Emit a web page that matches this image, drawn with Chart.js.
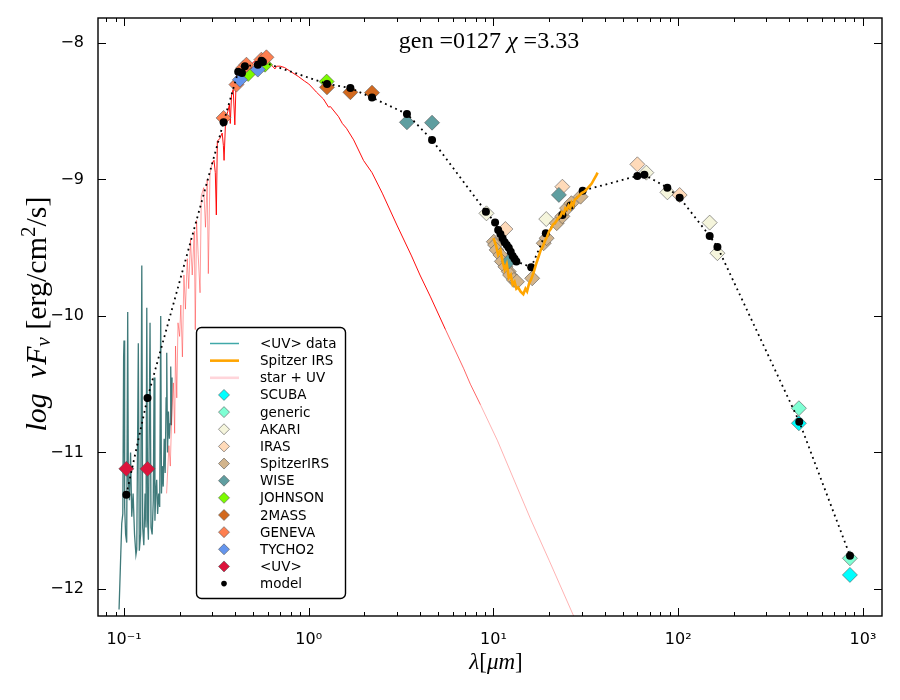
<!DOCTYPE html>
<html>
<head>
<meta charset="utf-8">
<script src="https://cdn.jsdelivr.net/npm/chart.js@4.4.1/dist/chart.umd.min.js"></script>
<style>body{margin:0;background:#fff}</style>
</head>
<body>
<canvas id="sed" width="900" height="700"></canvas>
<script>
// ---- data (wavelength in micron, log nuFnu) ----
const uvLam = [0.0940,0.0955,0.0972,0.0985,0.0995,0.1000,0.1008,0.1020,0.1034,0.1047,0.1055,0.1070,0.1085,0.1101,0.1120,0.1140,0.1160,0.1172,0.1195,0.1210,0.1230,0.1248,0.1262,0.1280,0.1300,0.1315,0.1328,0.1342,0.1355,0.1383,0.1400,0.1420,0.1440,0.1455,0.1470,0.1485,0.1503,0.1520,0.1540,0.1560,0.1580,0.1595,0.1610,0.1630,0.1650,0.1670,0.1690,0.1703,0.1720,0.1740,0.1760,0.1774,0.1790,0.1805,0.1820];
const uvFlux = [-12.15,-11.85,-11.52,-11.45,-10.30,-10.18,-11.40,-11.60,-11.66,-9.97,-11.20,-11.35,-11.00,-11.47,-11.30,-11.60,-11.75,-11.71,-10.20,-11.72,-11.60,-9.63,-11.55,-11.68,-11.30,-11.55,-9.94,-11.50,-11.64,-10.05,-11.55,-11.60,-11.35,-10.45,-11.50,-11.30,-11.20,-11.45,-11.30,-11.40,-10.00,-11.30,-11.10,-11.25,-10.90,-11.15,-10.60,-10.27,-11.00,-10.70,-10.90,-10.79,-10.37,-10.80,-10.45];

const starLam = [0.170,0.175,0.178,0.181,0.185,0.188,0.190,0.193,0.196,0.200,0.203,0.207,0.211,0.215,0.220,0.224,0.229,0.234,0.240,0.243,0.247,0.252,0.258,0.262,0.270,0.276,0.282,0.286,0.292,0.300,0.307,0.312,0.316,0.320,0.330,0.340,0.345,0.348,0.355,0.365,0.372,0.376,0.382,0.390,0.398,0.405,0.412,0.420,0.430,0.440,0.450,0.470,0.486,0.500,0.530,0.560,0.590,0.617,0.656,0.670,0.700,0.740,0.800,0.877,0.950,1.00,1.05,1.10,1.20,1.28,1.31,1.45,1.52,1.60,1.75,1.98,2.20,2.50,3.00,3.60,4.00,4.56,5.50,6.90,7.50,8.50,10.5,13.0,15.9,20.0,27.2,32.0];
const starFlux = [-11.30,-10.95,-11.10,-10.75,-10.49,-10.86,-10.22,-10.60,-10.05,-10.15,-9.92,-10.30,-9.70,-9.95,-9.58,-9.80,-9.44,-9.70,-9.38,-10.10,-9.30,-9.55,-9.83,-9.12,-9.06,-9.35,-9.00,-9.69,-8.96,-8.88,-8.86,-8.95,-9.26,-8.72,-8.70,-8.66,-8.75,-8.86,-8.55,-8.50,-8.45,-8.59,-8.38,-8.34,-8.60,-8.25,-8.20,-8.30,-8.18,-8.16,-8.16,-8.15,-8.20,-8.14,-8.13,-8.13,-8.14,-8.15,-8.19,-8.17,-8.17,-8.18,-8.21,-8.245,-8.28,-8.30,-8.33,-8.36,-8.41,-8.47,-8.466,-8.54,-8.59,-8.625,-8.71,-8.861,-8.95,-9.10,-9.334,-9.56,-9.70,-9.86,-10.10,-10.386,-10.50,-10.65,-10.912,-11.21,-11.49,-11.79,-12.20,-12.41];

const irsLam = [10.0,10.3,10.6,10.9,11.2,11.5,11.8,12.1,12.4,12.7,13.0,13.3,13.6,14.0,14.5,14.9,15.2,15.6,16.0,16.5,17.0,17.5,18.0,18.5,19.0,19.5,20.0,20.5,21.0,21.5,22.0,22.5,23.0,23.5,24.0,24.5,25.0,25.5,26.0,26.5,27.0,27.5,28.0,29.0,30.0,31.0,32.0,33.0,34.0,35.0,36.0,36.6];
const irsFlux = [-9.43,-9.48,-9.55,-9.52,-9.60,-9.66,-9.62,-9.72,-9.70,-9.77,-9.75,-9.80,-9.79,-9.82,-9.84,-9.80,-9.82,-9.76,-9.73,-9.68,-9.62,-9.57,-9.52,-9.49,-9.45,-9.42,-9.38,-9.36,-9.33,-9.32,-9.30,-9.28,-9.27,-9.24,-9.25,-9.21,-9.22,-9.19,-9.21,-9.17,-9.19,-9.15,-9.14,-9.12,-9.10,-9.09,-9.07,-9.05,-9.03,-9.00,-8.97,-8.95];

const modelLam = [0.1029,0.134,0.346,0.415,0.435,0.451,0.530,0.555,0.565,1.255,1.68,2.20,3.40,4.65,9.1,10.2,10.6,10.9,11.2,11.5,11.8,12.1,12.4,12.7,13.0,13.3,16.0,19.2,23.6,26.1,30.4,60.1,65.6,87.3,101.8,148,163,452,851];
const modelFlux = [-11.31,-10.60,-8.58,-8.21,-8.22,-8.17,-8.16,-8.13,-8.14,-8.30,-8.33,-8.40,-8.52,-8.71,-9.236,-9.316,-9.37,-9.40,-9.43,-9.46,-9.48,-9.50,-9.53,-9.56,-9.58,-9.60,-9.643,-9.394,-9.26,-9.19,-9.082,-8.974,-8.965,-9.06,-9.133,-9.414,-9.494,-10.774,-11.756];

// photometry per instrument
const scubaLam = [450, 850],            scubaFlux = [-10.786, -11.897];
const genericLam = [450, 850],          genericFlux = [-10.676, -11.775];
const akariLam = [9.16, 19.3, 67.2, 87.4, 148, 163];
const akariFlux = [-9.248, -9.29, -8.95, -9.094, -9.316, -9.54];
const irasLam = [11.6, 23.6, 60.1, 101.8], irasFlux = [-9.363, -9.053, -8.889, -9.114];
const spitzerLam = [10.04,10.2,10.4,10.9,11.1,11.6,12.1,12.3,12.9,13.4,16.2,18.7,19.4,22.0,23.6,25.0,26.4,29.6];
const spitzerFlux = [-9.456,-9.48,-9.516,-9.553,-9.60,-9.64,-9.675,-9.70,-9.736,-9.749,-9.724,-9.467,-9.43,-9.32,-9.27,-9.21,-9.174,-9.126];
const wiseLam = [3.40, 4.65, 12.1, 22.6],  wiseFlux = [-8.581, -8.584, -9.60, -9.113];
const johnsonLam = [0.47, 0.58, 1.25],     johnsonFlux = [-8.227, -8.159, -8.283];
const twomassLam = [1.255, 1.68, 2.20],    twomassFlux = [-8.325, -8.361, -8.364];
const genevaLam = [0.346, 0.406, 0.442, 0.46, 0.554, 0.59];
const genevaFlux = [-8.549, -8.305, -8.183, -8.159, -8.122, -8.105];
const tychoLam = [0.424, 0.53],            tychoFlux = [-8.269, -8.195];
const uvPhotLam = [0.1029, 0.134],         uvPhotFlux = [-11.12, -11.12];

const xTickVals = [0.1, 1, 10, 100, 1000];
const xTickText = ['10\u207B\u00B9', '10\u2070', '10\u00B9', '10\u00B2', '10\u00B3'];
const yTickVals = [-12, -11, -10, -9, -8];

// ---- build datasets ----
const pts = (xs, ys) => xs.map((v, i) => ({x: v, y: ys[i]}));

const bands = [
  ['SCUBA', scubaLam, scubaFlux, '#00ffff'],
  ['generic', genericLam, genericFlux, '#7fffd4'],
  ['AKARI', akariLam, akariFlux, '#f5f5dc'],
  ['IRAS', irasLam, irasFlux, '#ffdab9'],
  ['SpitzerIRS', spitzerLam, spitzerFlux, '#d2b48c'],
  ['WISE', wiseLam, wiseFlux, '#5f9ea0'],
  ['JOHNSON', johnsonLam, johnsonFlux, '#7cfc00'],
  ['2MASS', twomassLam, twomassFlux, '#d2691e'],
  ['GENEVA', genevaLam, genevaFlux, '#ff7f50'],
  ['TYCHO2', tychoLam, tychoFlux, '#6495ed'],
  ['<UV>', uvPhotLam, uvPhotFlux, '#dc143c']
];

function starColor(ctx) {
  const lam = ctx.p0.parsed.x;
  if (lam < 0.3) return 'rgba(255,0,0,0.38)';
  if (lam < 5) return 'rgba(255,0,0,0.95)';
  if (lam < 8) return 'rgba(255,0,0,0.6)';
  return 'rgba(255,0,0,0.3)';
}

const datasets = [
  {label: '<UV> data', data: pts(uvLam, uvFlux), showLine: true, pointRadius: 0,
   borderColor: '#3f7a7a', borderWidth: 1.3, order: 50},
  {label: 'star + UV', data: pts(starLam, starFlux), showLine: true, pointRadius: 0,
   borderColor: 'rgba(255,0,0,0.4)', borderWidth: 1, segment: {borderColor: starColor}, order: 49}
];
bands.forEach((b, i) => datasets.push({
  label: b[0], data: pts(b[1], b[2]), pointStyle: 'rectRot', pointRadius: 7.5,
  backgroundColor: b[3], borderColor: '#555', borderWidth: 0.6, order: 30 - i
}));
datasets.push(
  {label: 'model line', data: pts(modelLam, modelFlux), showLine: true, pointRadius: 0,
   borderColor: '#000', borderWidth: 1.8, borderDash: [1.8, 3.8], order: 5},
  {label: 'model', data: pts(modelLam, modelFlux), pointRadius: 4,
   backgroundColor: '#000', borderColor: '#000', borderWidth: 0, order: 4},
  {label: 'Spitzer IRS', data: pts(irsLam, irsFlux), showLine: true, pointRadius: 0,
   borderColor: '#ffa500', borderWidth: 2.6, order: 1}
);

// ---- legend rows, title, axis labels, inward ticks ----
const legendRows = [
  {label: '<UV> data', line: '#40a8a8', w: 1.5},
  {label: 'Spitzer IRS', line: '#ffa500', w: 2.6},
  {label: 'star + UV', line: '#ffd5da', w: 2.6}
].concat(bands.map(b => ({label: b[0], diamond: b[3]})), [{label: 'model', dot: true}]);

function drawParts(ctx, parts, size) {
  let w = 0;
  parts.forEach(p => {
    ctx.font = (p.it ? 'italic ' : '') + Math.round(size * (p.s || 1)) + 'px "Liberation Serif", serif';
    p.w = ctx.measureText(p.t).width; w += p.w;
  });
  let x = -w / 2;
  parts.forEach(p => {
    ctx.font = (p.it ? 'italic ' : '') + Math.round(size * (p.s || 1)) + 'px "Liberation Serif", serif';
    ctx.fillText(p.t, x, (p.dy || 0) * size);
    x += p.w;
  });
}

const decorations = {
  id: 'decorations',
  afterDraw(chart) {
    const {ctx, chartArea: a, scales: {x, y}} = chart;
    ctx.save();
    ctx.strokeStyle = '#000';
    ctx.lineWidth = 1;
    ctx.beginPath();
    for (let e = -2; e <= 3; e++) {
      for (let m = 1; m < 10; m++) {
        const v = m * Math.pow(10, e);
        if (v < x.min || v > x.max) continue;
        const px = Math.round(x.getPixelForValue(v)) + 0.5;
        const len = m === 1 ? 8 : 4;
        ctx.moveTo(px, a.bottom); ctx.lineTo(px, a.bottom - len);
        ctx.moveTo(px, a.top); ctx.lineTo(px, a.top + len);
      }
    }
    yTickVals.forEach(v => {
      const py = Math.round(y.getPixelForValue(v)) + 0.5;
      ctx.moveTo(a.left, py); ctx.lineTo(a.left + 8, py);
      ctx.moveTo(a.right, py); ctx.lineTo(a.right - 8, py);
    });
    ctx.stroke();
    ctx.lineWidth = 1.4;
    ctx.strokeRect(a.left, a.top, a.right - a.left, a.bottom - a.top);

    // title
    ctx.fillStyle = '#000';
    ctx.textBaseline = 'middle';
    ctx.save();
    ctx.translate(489, 42);
    drawParts(ctx, [{t: 'gen =0127 '}, {t: '\u03C7', it: true}, {t: ' =3.33'}], 24);
    ctx.restore();

    // x label
    ctx.save();
    ctx.translate(496, 663);
    drawParts(ctx, [{t: '\u03BB', it: true}, {t: '['}, {t: '\u03BCm', it: true}, {t: ']'}], 23);
    ctx.restore();

    // y label
    ctx.save();
    ctx.translate(38, 314);
    ctx.rotate(-Math.PI / 2);
    drawParts(ctx, [{t: 'log', it: true}, {t: '  '}, {t: '\u03BDF', it: true}, {t: '\u03BD', it: true, s: 0.7, dy: 0.22},
      {t: ' [erg/cm'}, {t: '2', s: 0.7, dy: -0.3}, {t: '/s]'}], 30);
    ctx.restore();

    // legend
    ctx.lineWidth = 1.4;
    ctx.fillStyle = '#fff';
    ctx.beginPath();
    ctx.roundRect(196.5, 327.5, 149, 271, 5);
    ctx.fill(); ctx.stroke();
    legendRows.forEach((r, i) => {
      const cy = 343.5 + i * 17.15;
      if (r.line) {
        ctx.strokeStyle = r.line; ctx.lineWidth = r.w;
        ctx.beginPath(); ctx.moveTo(210, cy); ctx.lineTo(239, cy); ctx.stroke();
      } else if (r.diamond) {
        ctx.fillStyle = r.diamond; ctx.strokeStyle = '#555'; ctx.lineWidth = 0.6;
        ctx.beginPath();
        ctx.moveTo(224, cy - 5.5); ctx.lineTo(229.5, cy); ctx.lineTo(224, cy + 5.5); ctx.lineTo(218.5, cy);
        ctx.closePath(); ctx.fill(); ctx.stroke();
      } else {
        ctx.fillStyle = '#000';
        ctx.beginPath(); ctx.arc(224, cy, 2.8, 0, Math.PI * 2); ctx.fill();
      }
      ctx.fillStyle = '#000';
      ctx.font = '13.5px "DejaVu Sans"';
      ctx.textAlign = 'left';
      ctx.fillText(r.label, 260, cy + 1);
    });
    ctx.restore();
  }
};

new Chart(document.getElementById('sed'), {
  type: 'scatter',
  data: {datasets},
  options: {
    responsive: false,
    animation: false,
    devicePixelRatio: 1,
    layout: {padding: {left: 0, top: 18, right: 18, bottom: 0}},
    plugins: {legend: {display: false}, tooltip: {enabled: false}},
    scales: {
      x: {
        type: 'logarithmic', min: 0.0723, max: 1268,
        afterBuildTicks: s => { s.ticks = xTickVals.map(v => ({value: v})); },
        afterFit: s => { s.height = 84; },
        grid: {display: false}, border: {display: false},
        ticks: {
          callback: v => xTickText[xTickVals.indexOf(v)],
          font: {family: 'DejaVu Sans', size: 16}, color: '#000',
          padding: 6, maxRotation: 0, autoSkip: false
        }
      },
      y: {
        min: -12.198, max: -7.817,
        afterBuildTicks: s => { s.ticks = yTickVals.map(v => ({value: v})); },
        afterFit: s => { s.width = 98; },
        grid: {display: false}, border: {display: false},
        ticks: {
          callback: v => '\u2212' + Math.abs(v),
          font: {family: 'DejaVu Sans', size: 16}, color: '#000', padding: 6
        }
      }
    }
  },
  plugins: [decorations]
});
</script>
</body>
</html>
